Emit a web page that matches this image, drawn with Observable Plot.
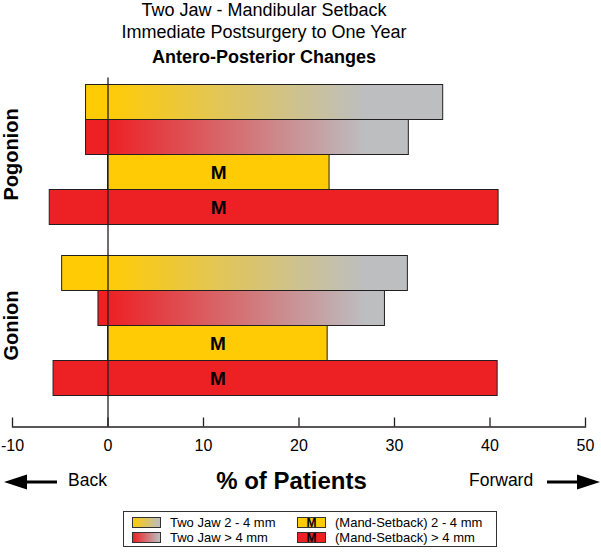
<!DOCTYPE html>
<html>
<head>
<meta charset="utf-8">
<script src="https://cdn.jsdelivr.net/npm/d3@7"></script>
<script src="https://cdn.jsdelivr.net/npm/@observablehq/plot@0.6"></script>
<style>
  body { margin: 0; background: #fff; }
  #wrap { position: relative; width: 601px; height: 552px; overflow: hidden; font-family: "Liberation Sans", Arial, sans-serif; color: #000; }
  #wrap svg.plot { position: absolute; left: 0; top: 0; }
  .t { position: absolute; white-space: nowrap; line-height: 1; }
  .legend { position: absolute; left: 123px; top: 511px; width: 374px; height: 36px; border: 1px solid #333; box-sizing: border-box; }
  .sw { position: absolute; width: 29px; height: 11px; border: 1px solid #333; box-sizing: border-box; font-weight: bold; font-size: 12px; line-height: 10px; text-align: center; }
  .lt { position: absolute; font-size: 13px; line-height: 1; white-space: nowrap; }
</style>
</head>
<body>
<div id="wrap"></div>
<script>
// ---- data ----
const groups = ["Pogonion", "Gonion"];
const series = ["Two Jaw 2 - 4 mm", "Two Jaw > 4 mm", "(Mand-Setback) 2 - 4 mm", "(Mand-Setback) > 4 mm"];
const pogonionBack = [-2.3, -2.3, 0, -6.1];
const pogonionForward = [35.1, 31.5, 23.2, 40.9];
const gonionBack = [-4.8, -1.0, 0, -5.7];
const gonionForward = [31.4, 29.0, 23.0, 40.8];
const xTicks = [-10, 0, 10, 20, 30, 40, 50];
const titleLines = ["Two Jaw - Mandibular Setback", "Immediate Postsurgery to One Year", "Antero-Posterior Changes"];
const xLabel = "% of Patients";
const backLabel = "Back";
const forwardLabel = "Forward";
const barLabel = "M";

// ---- styles ----
const yellow = "#FFCB05", red = "#ED2024", gray = "#BCBEC0", ink = "#231F20";
const fills = ["url(#gradYellow)", "url(#gradRed)", yellow, red];

const backBy = {[groups[0]]: pogonionBack, [groups[1]]: gonionBack};
const fwdBy = {[groups[0]]: pogonionForward, [groups[1]]: gonionForward};
const rows = groups.flatMap(g => series.map((s, i) => ({group: g, series: s, back: backBy[g][i], forward: fwdBy[g][i]})));
const mandRows = rows.filter(r => r.series.startsWith("(Mand"));
const mandMid = g => fwdBy[g][2] / 2;

const lastGroup = groups[groups.length - 1];

const chart = Plot.plot({
  width: 601,
  height: 552,
  marginLeft: 12,
  marginRight: 16,
  marginTop: 82.5,
  marginBottom: 156.5,
  style: {background: "transparent", fontFamily: "Liberation Sans, Arial, sans-serif", color: "#000", overflow: "visible"},
  x: {domain: [-10, 50], axis: null},
  y: {domain: series, padding: 0, axis: null},
  fy: {domain: groups, paddingInner: 29 / 171, paddingOuter: 0, axis: null},
  color: {domain: series, range: fills},
  marks: [
    Plot.rectX(rows, {x1: "back", x2: "forward", y: "series", fy: "group", fill: "series", stroke: ink, strokeWidth: 1}),
    Plot.text(mandRows, {x: r => mandMid(r.group), y: "series", fy: "group", text: () => barLabel, fontWeight: "bold", fontSize: 19, fill: "#000"}),
    Plot.text(groups, {fy: d => d, text: d => d, frameAnchor: "left", textAnchor: "middle", lineAnchor: "middle", rotate: -90, dx: -1, fontWeight: "bold", fontSize: 20, fill: "#000"}),
    // zero line, continuous through both groups down to the axis
    Plot.ruleX([groups[0]], {x: () => 0, fy: d => d, stroke: ink, strokeWidth: 1.3, insetTop: -5.5, insetBottom: -29.1}),
    Plot.ruleX([groups[1]], {x: () => 0, fy: d => d, stroke: ink, strokeWidth: 1.3, insetBottom: -30.5}),
    // axis: baseline, upward ticks, labels
    Plot.frame({facet: "super", anchor: "bottom", stroke: ink, strokeWidth: 1.3, insetBottom: -30.5}),
    Plot.ruleX(xTicks, {x: d => d, fy: () => lastGroup, stroke: ink, strokeWidth: 1.3, insetTop: 163.5, insetBottom: -30.5}),
    Plot.text(xTicks, {x: d => d, fy: () => lastGroup, text: d => String(d), frameAnchor: "bottom", lineAnchor: "bottom", dy: 54.5, fontSize: 16, fill: "#000"})
  ]
});
chart.classList.add("plot");

// gradients (user space along x, from x=0 to gray)
const xs = chart.scale("x");
const gx0 = xs.apply(0), gx1 = xs.apply(27);
const defs = d3.select(chart).insert("defs", ":first-child");
[["gradYellow", yellow], ["gradRed", red]].forEach(([id, c]) => {
  const g = defs.append("linearGradient").attr("id", id).attr("gradientUnits", "userSpaceOnUse")
    .attr("x1", gx0).attr("x2", gx1).attr("y1", 0).attr("y2", 0);
  g.append("stop").attr("offset", 0).attr("stop-color", c);
  g.append("stop").attr("offset", 1).attr("stop-color", gray);
});

const wrap = document.getElementById("wrap");
wrap.appendChild(chart);

function addText(txt, {left, width, baseline, size, bold, align}) {
  const d = document.createElement("div");
  d.className = "t";
  d.textContent = txt;
  d.style.fontSize = size + "px";
  d.style.fontWeight = bold ? "bold" : "normal";
  d.style.top = (baseline - 0.8465 * size) + "px";
  d.style.left = left + "px";
  if (width != null) { d.style.width = width + "px"; d.style.textAlign = align || "center"; }
  wrap.appendChild(d);
}
addText(titleLines[0], {left: 0, width: 528, baseline: 16, size: 18});
addText(titleLines[1], {left: 0, width: 528, baseline: 38, size: 18});
addText(titleLines[2], {left: 0, width: 528, baseline: 63, size: 18, bold: true});
addText(xLabel, {left: 0, width: 583, baseline: 489, size: 24, bold: true});
addText(backLabel, {left: 68, baseline: 487, size: 17.5});
addText(forwardLabel, {left: 469, baseline: 487, size: 17.5});

// arrows
const ns = "http://www.w3.org/2000/svg";
const arr = document.createElementNS(ns, "svg");
arr.setAttribute("width", 601); arr.setAttribute("height", 552);
arr.style.position = "absolute"; arr.style.left = "0"; arr.style.top = "0";
arr.innerHTML = `
  <rect x="25" y="480.5" width="32" height="3" fill="#000"/>
  <polygon points="4,482 27,474.5 27,489.5" fill="#000"/>
  <rect x="547" y="480.5" width="32" height="3" fill="#000"/>
  <polygon points="600,482 577,474.5 577,489.5" fill="#000"/>`;
wrap.appendChild(arr);

// legend
const leg = document.createElement("div");
leg.className = "legend";
const items = [
  {label: series[0], bg: `linear-gradient(to right, ${yellow}, ${gray})`, m: false, x: 8, y: 5},
  {label: series[1], bg: `linear-gradient(to right, ${red}, ${gray})`, m: false, x: 8, y: 20},
  {label: series[2], bg: yellow, m: true, x: 173, y: 5},
  {label: series[3], bg: red, m: true, x: 173, y: 20}
];
items.forEach(it => {
  const s = document.createElement("div");
  s.className = "sw";
  s.style.left = it.x + "px"; s.style.top = it.y + "px";
  s.style.background = it.bg;
  if (it.m) s.textContent = barLabel;
  leg.appendChild(s);
  const l = document.createElement("div");
  l.className = "lt";
  l.textContent = it.label;
  l.style.left = (it.x + 38) + "px";
  l.style.top = (it.y - 1) + "px";
  leg.appendChild(l);
});
wrap.appendChild(leg);
</script>
</body>
</html>
